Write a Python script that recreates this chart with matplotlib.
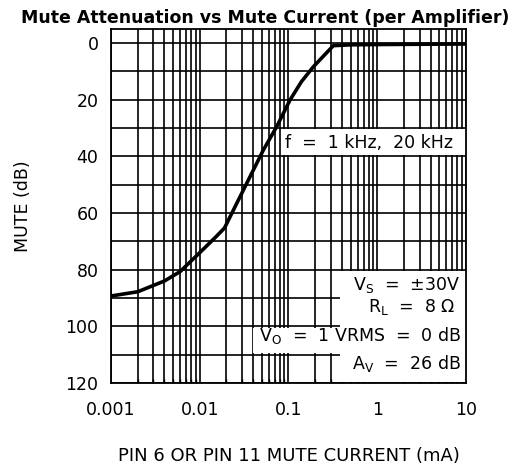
import matplotlib
matplotlib.use('Agg')
import matplotlib.pyplot as plt
from matplotlib.patches import Rectangle
from matplotlib.ticker import LogLocator, FixedLocator, NullFormatter

plt.rcParams['font.family'] = 'DejaVu Sans'
plt.rcParams['mathtext.default'] = 'regular'

# values
current_ma = [0.001, 0.002, 0.004, 0.006, 0.01, 0.015, 0.019, 0.031, 0.052,
              0.0736, 0.104, 0.14, 0.19, 0.32, 0.5, 1, 10]
mute_db = [89.3, 87.8, 84.0, 80.7, 74.0, 68.6, 65.3, 51.9, 37.8,
           29.5, 20.1, 13.6, 8.4, 0.9, 0.6, 0.5, 0.3]

x_ticks = [0.001, 0.01, 0.1, 1, 10]
x_tick_labels = ['0.001', '0.01', '0.1', '1', '10']
y_ticks = [0, 20, 40, 60, 80, 100, 120]

fig = plt.figure(figsize=(5.31, 4.67), dpi=100)
ax = fig.add_axes([0.209, 0.18, 0.6686, 0.758])

ax.set_xscale('log')
ax.set_xlim(0.001, 10)
ax.set_ylim(120, -5)

ax.xaxis.set_major_locator(FixedLocator(x_ticks))
ax.set_xticklabels(x_tick_labels)
ax.xaxis.set_minor_locator(LogLocator(base=10, subs=range(2, 10)))
ax.xaxis.set_minor_formatter(NullFormatter())
ax.set_yticks(y_ticks)
ax.yaxis.set_minor_locator(FixedLocator(range(10, 120, 20)))

ax.tick_params(axis='both', which='major', length=0, labelsize=12.5)
ax.tick_params(axis='x', which='major', pad=13)
ax.tick_params(axis='y', which='major', pad=9)
ax.tick_params(axis='x', which='minor', direction='in', length=3, width=1)
ax.tick_params(axis='y', which='minor', length=0)

ax.grid(True, which='both', color='black', linewidth=1.2, zorder=1)
ax.set_axisbelow(True)
for s in ax.spines.values():
    s.set_linewidth(1.3)

# white label panels over the grid
panels = [
    (0.087, 30.5, 10, 39.5),
    (0.38, 80.5, 10, 119.6),
    (0.04, 100.5, 0.38, 109.5),
]
for x0, y0, x1, y1 in panels:
    ax.add_patch(Rectangle((x0, y0), x1 - x0, y1 - y0, facecolor='white',
                           edgecolor='none', zorder=2))

ax.plot(current_ma, mute_db, color='black', linewidth=2.6, zorder=3,
        solid_joinstyle='round')

fs = 12.5
ax.text(0.091, 35.3, 'f  =  1 kHz,  20 kHz', fontsize=fs, va='center',
        ha='left', zorder=4)
ax.text(8.6, 85.5, r'$V_S$  =  ±30V', fontsize=fs, va='center', ha='right',
        zorder=4)
ax.text(7.6, 93.3, r'$R_L$  =  8 Ω', fontsize=fs, va='center', ha='right',
        zorder=4)
ax.text(8.8, 103.3, r'$V_O$  =  1 VRMS  =  0 dB', fontsize=fs, va='center',
        ha='right', zorder=4)
ax.text(8.8, 113, r'$A_V$  =  26 dB', fontsize=fs, va='center', ha='right',
        zorder=4)

ax.set_ylabel('MUTE (dB)', fontsize=12.5, labelpad=24)
ax.set_xlabel('PIN 6 OR PIN 11 MUTE CURRENT (mA)', fontsize=13, labelpad=20)

fig.text(0.5, 0.951, 'Mute Attenuation vs Mute Current (per Amplifier)',
         ha='center', va='baseline', fontsize=12.5, fontweight='bold',
         family='DejaVu Sans')

fig.savefig('out.png', dpi=100)
